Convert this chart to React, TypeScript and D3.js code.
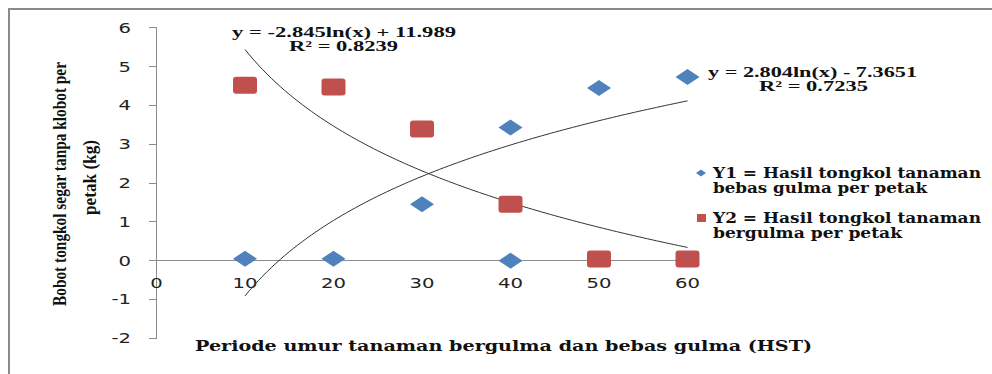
import React, { useEffect, useRef } from "react";
import * as d3 from "d3";

const width = 992;
const height = 374;

// Y1 = bebas gulma (blue diamonds), Y2 = bergulma (red squares)
const y1X = [10, 20, 30, 40, 40, 50, 60];
const y1Values = [0.05, 0.05, 1.45, 0, 3.43, 4.45, 4.73];
const y2X = [10, 20, 30, 40, 50, 60];
const y2Values = [4.52, 4.47, 3.39, 1.45, 0.04, 0.04];

const xTicks = [0, 10, 20, 30, 40, 50, 60];
const yTicks = [-2, -1, 0, 1, 2, 3, 4, 5, 6];

// log trendlines as printed on the chart
const trendY1 = { a: 2.804, b: -7.3651, eq: "y = 2.804ln(x) - 7.3651", r2: "R² = 0.7235" };
const trendY2 = { a: -2.845, b: 11.989, eq: "y = -2.845ln(x) + 11.989", r2: "R² = 0.8239" };

const legendLines = [
    ["Y1 = Hasil tongkol tanaman", "bebas gulma per petak"],
    ["Y2 = Hasil tongkol tanaman", "bergulma per petak"],
];

const xTitle = "Periode umur tanaman bergulma dan bebas gulma (HST)";
const yTitle = ["Bobot tongkol segar tanpa klobot per", "petak (kg)"];

const blue = "#4F81BD";
const red = "#C0504D";
const axisColor = "#8c8c8c";
const serif = "'Liberation Serif', 'Times New Roman', serif";
const wideSerif = "'DejaVu Serif', serif";
const sans = "'DejaVu Sans', Verdana, sans-serif";

const App = () => {
    const ref = useRef<SVGSVGElement>(null);

    useEffect(() => {
        const svg = d3.select(ref.current);
        svg.selectAll("*").remove();

        const x = d3.scaleLinear().domain([0, 60]).range([156.5, 687.5]);
        const y = d3.scaleLinear().domain([-2, 6]).range([338.3, 27.7]);

        // outer frame (top and left visible)
        svg.append("path")
            .attr("d", `M9,${height} V9 H${width}`)
            .attr("fill", "none")
            .attr("stroke", "#8a8a8a")
            .attr("stroke-width", 2);

        // axes
        const axes = svg.append("g")
            .attr("stroke", axisColor)
            .attr("stroke-width", 1)
            .attr("shape-rendering", "crispEdges");

        axes.append("line")
            .attr("x1", x(0)).attr("x2", x(0))
            .attr("y1", y(6)).attr("y2", y(-2));

        axes.selectAll("line.ytick")
            .data(yTicks)
            .join("line")
            .attr("class", "ytick")
            .attr("x1", x(0) - 8).attr("x2", x(0))
            .attr("y1", d => y(d)).attr("y2", d => y(d));

        axes.append("line")
            .attr("x1", x(0) - 8).attr("x2", x(60))
            .attr("y1", y(0)).attr("y2", y(0));

        svg.append("g")
            .attr("font-family", sans)
            .attr("font-size", 14)
            .attr("fill", "#222")
            .selectAll("text")
            .data(yTicks)
            .join("text")
            .attr("text-anchor", "end")
            .attr("transform", d => `translate(131,${y(d) + 5}) scale(1.4,1)`)
            .text(d => d);

        svg.append("g")
            .attr("font-family", sans)
            .attr("font-size", 14)
            .attr("fill", "#222")
            .selectAll("text")
            .data(xTicks)
            .join("text")
            .attr("text-anchor", "middle")
            .attr("transform", d => `translate(${x(d)},288) scale(1.4,1)`)
            .text(d => d);

        // trendlines
        const line = d3.line<number>();
        const xs = d3.range(10, 60.001, 0.5);
        [trendY1, trendY2].forEach(t => {
            svg.append("path")
                .attr("d", line(xs.map(v => [x(v), y(t.a * Math.log(v) + t.b)])))
                .attr("fill", "none")
                .attr("stroke", "#333")
                .attr("stroke-width", 1);
        });

        // Y2 squares
        svg.append("g")
            .selectAll("rect")
            .data(y2Values)
            .join("rect")
            .attr("x", (d, i) => x(y2X[i]) - 12)
            .attr("y", d => y(d) - 8.5)
            .attr("width", 24)
            .attr("height", 17)
            .attr("rx", 3)
            .attr("fill", red);

        // Y1 diamonds
        svg.append("g")
            .selectAll("path")
            .data(y1Values)
            .join("path")
            .attr("transform", (d, i) => `translate(${x(y1X[i])},${y(d)})`)
            .attr("d", "M0,-8 L12,0 L0,8 L-12,0 Z")
            .attr("fill", blue);

        // trend equations
        const eqs = svg.append("g")
            .attr("font-family", serif)
            .attr("font-weight", "bold")
            .attr("font-size", 14)
            .attr("fill", "#111");
        eqs.append("text").attr("x", 232).attr("y", 37)
            .attr("textLength", 224).attr("lengthAdjust", "spacingAndGlyphs").text(trendY2.eq);
        eqs.append("text").attr("x", 289).attr("y", 51)
            .attr("textLength", 109).attr("lengthAdjust", "spacingAndGlyphs").text(trendY2.r2);
        eqs.append("text").attr("x", 708).attr("y", 77)
            .attr("textLength", 209).attr("lengthAdjust", "spacingAndGlyphs").text(trendY1.eq);
        eqs.append("text").attr("x", 759).attr("y", 91)
            .attr("textLength", 109).attr("lengthAdjust", "spacingAndGlyphs").text(trendY1.r2);

        // legend
        const legend = svg.append("g")
            .attr("font-family", wideSerif)
            .attr("font-weight", "bold")
            .attr("font-size", 14)
            .attr("fill", "#111");
        const legendLens = [[268, 214], [268, 189]];
        const legendY = [173, 218];
        legend.append("path")
            .attr("transform", `translate(701,${legendY[0]})`)
            .attr("d", "M0,-3.5 L5,0 L0,3.5 L-5,0 Z")
            .attr("fill", blue);
        legend.append("rect")
            .attr("x", 697).attr("y", legendY[1] - 4)
            .attr("width", 9).attr("height", 8)
            .attr("fill", red);
        legendLines.forEach((lines, i) => {
            lines.forEach((txt, j) => {
                legend.append("text")
                    .attr("x", 713)
                    .attr("y", legendY[i] + 5 + j * 15)
                    .attr("textLength", legendLens[i][j])
                    .attr("lengthAdjust", "spacingAndGlyphs")
                    .text(txt);
            });
        });

        // axis titles
        svg.append("text")
            .attr("x", 195).attr("y", 351)
            .attr("font-family", wideSerif)
            .attr("font-weight", "bold")
            .attr("font-size", 15)
            .attr("textLength", 617)
            .attr("lengthAdjust", "spacingAndGlyphs")
            .attr("fill", "#111")
            .text(xTitle);

        svg.append("text")
            .attr("transform", "translate(66,306) rotate(-90)")
            .attr("font-family", serif)
            .attr("font-weight", "bold")
            .attr("font-size", 18)
            .attr("textLength", 244)
            .attr("lengthAdjust", "spacingAndGlyphs")
            .attr("fill", "#111")
            .text(yTitle[0]);
        svg.append("text")
            .attr("transform", "translate(96,215) rotate(-90)")
            .attr("font-family", serif)
            .attr("font-weight", "bold")
            .attr("font-size", 18)
            .attr("textLength", 75)
            .attr("lengthAdjust", "spacingAndGlyphs")
            .attr("fill", "#111")
            .text(yTitle[1]);
    }, []);

    return (
        <svg ref={ref} width={width} height={height}
            style={{ position: "absolute", left: 0, top: 0, background: "#fff" }}>
        </svg>
    );
};

export default App;
